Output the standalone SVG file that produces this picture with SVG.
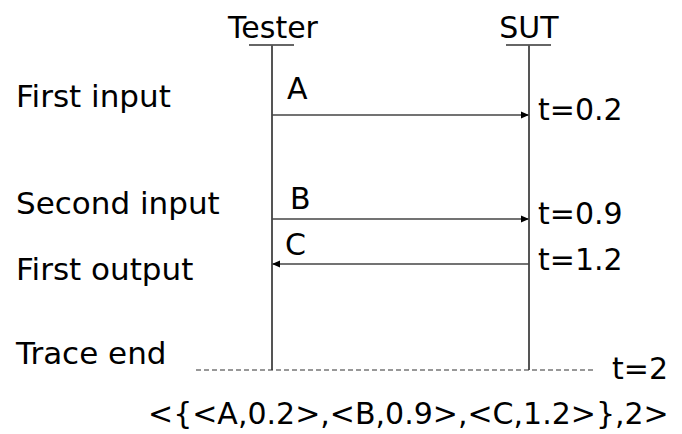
<svg xmlns="http://www.w3.org/2000/svg" width="682" height="434" viewBox="0 0 682 434">
<style>
text{font-family:"DejaVu Sans",sans-serif;font-size:30px;fill:#000}
.lb{font-size:31px}
.ln{stroke:#555;stroke-width:2;fill:none}
.ar{stroke:#444;stroke-width:1.5;fill:none}
.ul{stroke:#333;stroke-width:1.5}
</style>
<defs>
<marker id="ah" markerWidth="8" markerHeight="8" refX="7" refY="4" orient="auto" markerUnits="userSpaceOnUse">
<path d="M0,0.5 L8,4 L0,7.5 Z" fill="#000"/>
</marker>
</defs>
<g id="tester">
<text x="273" y="38" text-anchor="middle">Tester</text>
<line class="ul" x1="249" y1="45" x2="294" y2="45"/>
<line class="ln" x1="272" y1="45" x2="272" y2="370"/>
</g>
<g id="sut">
<text x="529" y="38" text-anchor="middle">SUT</text>
<line class="ul" x1="506" y1="45" x2="551" y2="45"/>
<line class="ln" x1="529" y1="45" x2="529" y2="370"/>
</g>
<g id="labels">
<text class="lb" x="16" y="107">First input</text>
<text class="lb" x="16" y="214">Second input</text>
<text class="lb" x="16" y="280">First output</text>
<text class="lb" x="16" y="364">Trace end</text>
<text x="538" y="120">t=0.2</text>
<text x="538" y="224">t=0.9</text>
<text x="538" y="270">t=1.2</text>
<text x="612" y="379">t=2</text>
<text x="148" y="424">&lt;{&lt;A,0.2&gt;,&lt;B,0.9&gt;,&lt;C,1.2&gt;},2&gt;</text>
</g>
<g id="connectors">
<line class="ar" x1="272" y1="115" x2="528" y2="115" marker-end="url(#ah)"/>
<text x="287" y="99">A</text>
<line class="ar" x1="272" y1="219" x2="528" y2="219" marker-end="url(#ah)"/>
<text x="290" y="209">B</text>
<line class="ar" x1="529" y1="264" x2="273" y2="264" marker-end="url(#ah)"/>
<text x="285" y="255">C</text>
<line x1="196" y1="370" x2="593" y2="370" stroke="#333" stroke-width="1.2" stroke-dasharray="5,3"/>
</g>
</svg>
